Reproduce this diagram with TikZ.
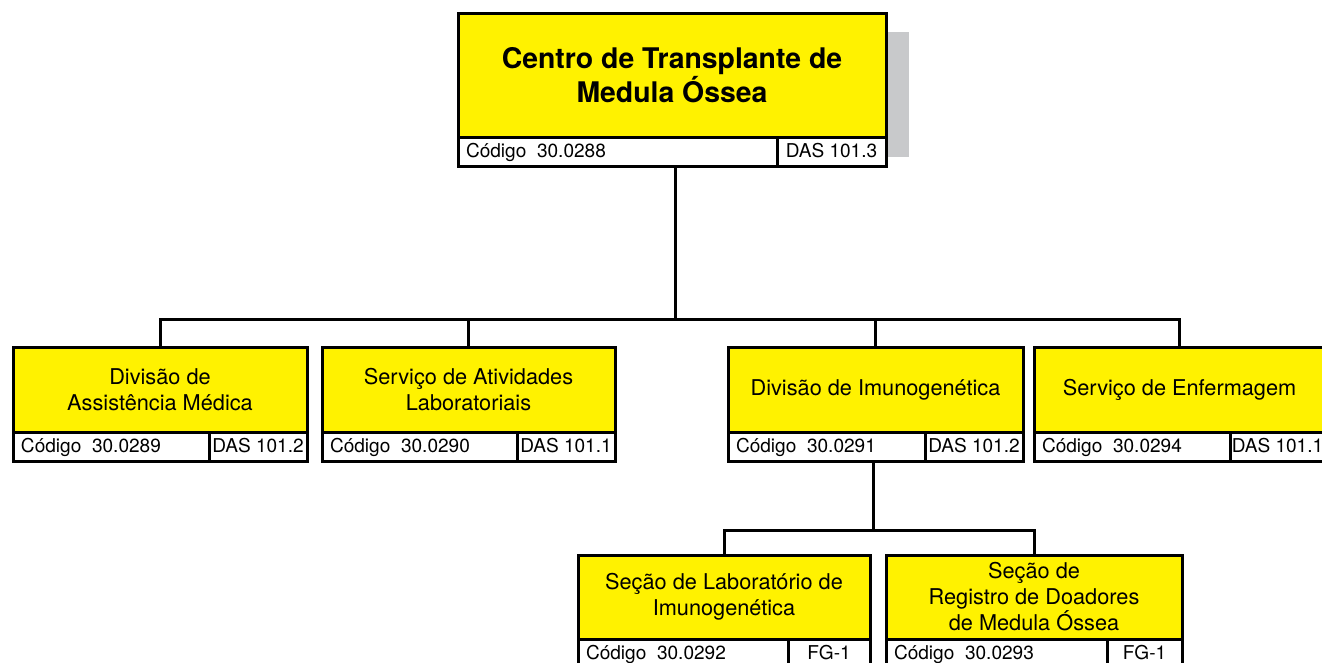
\documentclass[tikz,border=0pt]{standalone}
\usepackage{fontspec}
\setmainfont{TeX Gyre Heros}
\definecolor{boxyellow}{HTML}{FFF200}
\definecolor{shadowgray}{HTML}{C8C9CB}
\tikzset{
  every node/.style={outer sep=0pt},
  ybox/.style={draw=black, line width=2.25pt, fill=boxyellow, inner sep=2pt, align=center, font=\fontsize{16.3}{19.5}\selectfont},
  titlebox/.style={ybox, font=\fontsize{21.3}{25}\selectfont\bfseries},
  cellbox/.style={draw=black, line width=2.25pt, fill=white, minimum height=21.75pt, inner sep=0pt},
  codetext/.style={inner sep=0pt, font=\fontsize{14.3}{16}\selectfont},
  link/.style={draw=black, line width=2.25pt}
}
\newcommand\orgbox[9]{%
  \pgfmathsetmacro\bw{(#4-#2)*0.75}%
  \pgfmathsetmacro\bh{(#5-#3)*0.75}%
  \pgfmathsetmacro\cw{(#6-#2)*0.75}%
  \pgfmathsetmacro\dw{(#4-#6)*0.75}%
  \node[ybox, minimum width=\bw pt, minimum height=\bh pt] (#1) at ({(#2+#4)/2},{(#3+#5)/2}) {#7};
  \node[cellbox, minimum width=\cw pt, anchor=north west] (#1-c) at (#1.south west) {};
  \node[codetext, anchor=base west] (#1-ct) at ([xshift=6pt, yshift=6.5pt]#1-c.south west) {#8};
  \node[cellbox, minimum width=\dw pt, anchor=north east] (#1-d) at (#1.south east) {};
  \node[codetext, anchor=base] (#1-dt) at ([yshift=6.5pt]#1-d.south) {#9};
}
\begin{document}
\begin{tikzpicture}[x=0.75pt, y=-0.75pt]
\useasboundingbox (0,0) rectangle (1322,662);
\clip (0,0) rectangle (1322,662);
% shadow of top box
\fill[shadowgray] (886,32) rectangle (909,157);
% top box
\pgfmathsetmacro\bw{(886-458)*0.75}
\pgfmathsetmacro\bh{(136-12)*0.75}
\node[titlebox, minimum width=\bw pt, minimum height=\bh pt] (top) at ({(458+886)/2},{(12+136)/2+1}) {Centro de Transplante de\\Medula Óssea};
\node[cellbox, minimum width={(777-458)*0.75pt}, anchor=north west] (top-c) at (top.south west) {};
\node[codetext, anchor=base west] (top-ct) at ([xshift=6pt, yshift=6.5pt]top-c.south west) {Código\ \ 30.0288};
\node[cellbox, minimum width={(886-777)*0.75pt}, anchor=north east] (top-d) at (top.south east) {};
\node[codetext, anchor=base] (top-dt) at ([yshift=6.5pt]top-d.south) {DAS 101.3};
% level 2
\orgbox{b1}{13}{347}{307}{432}{209}{Divisão de\\Assistência Médica}{Código\ \ 30.0289}{DAS 101.2}
\orgbox{b2}{322}{347}{615}{432}{517}{Serviço de Atividades\\Laboratoriais}{Código\ \ 30.0290}{DAS 101.1}
\orgbox{b3}{728}{347}{1023}{432}{925}{Divisão de Imunogenética}{Código\ \ 30.0291}{DAS 101.2}
\orgbox{b4}{1034}{347}{1325}{432}{1230}{Serviço de Enfermagem}{Código\ \ 30.0294}{DAS 101.1}
% level 3
\orgbox{b5}{578}{555}{870}{639}{788}{Seção de Laboratório de\\Imunogenética}{Código\ \ 30.0292}{FG-1}
\orgbox{b6}{886}{555}{1182}{639}{1107}{Seção de\\Registro de Doadores\\de Medula Óssea}{Código\ \ 30.0293}{FG-1}
% connectors
\coordinate (j1) at (675,319);
\coordinate (j2) at (873,530);
\draw[link] (j1 |- top-c.south) -- (j1);
\draw[link] (b1.north) -- (b1.north |- j1) -- (b4.north |- j1) -- (b4.north);
\draw[link] (b2.north) -- (b2.north |- j1);
\draw[link] (b3.north) -- (b3.north |- j1);
\draw[link] (j2 |- b3-c.south) -- (j2);
\draw[link] (b5.north) -- (b5.north |- j2) -- (b6.north |- j2) -- (b6.north);
\end{tikzpicture}
\end{document}
